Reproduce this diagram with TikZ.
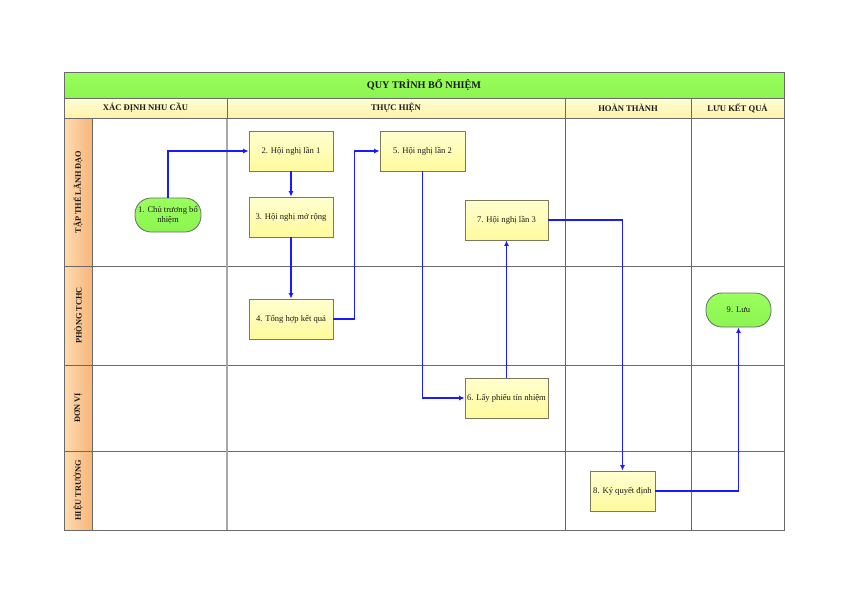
\documentclass[tikz,border=0pt]{standalone}
\usepackage{fontspec}
\setmainfont{Liberation Serif}
\usetikzlibrary{arrows.meta}
\definecolor{gridc}{HTML}{6A6A6A}
\definecolor{lightgrid}{HTML}{A8A8A8}
\definecolor{titlegreen}{HTML}{99FF5C}
\definecolor{titlegreenB}{HTML}{8CF552}
\definecolor{hdrtop}{HTML}{FFFFD6}
\definecolor{hdrbot}{HTML}{FFF2A8}
\definecolor{laneL}{HTML}{FFDCB0}
\definecolor{laneR}{HTML}{F7B57A}
\definecolor{boxtop}{HTML}{FFFFD0}
\definecolor{boxbot}{HTML}{FFFA9C}
\definecolor{boxdraw}{HTML}{7A7A5A}
\definecolor{flow}{HTML}{1A1AFF}
\definecolor{txt}{HTML}{1A1A1A}
\tikzset{
  cell/.style={draw=gridc, line width=0.9pt, inner sep=0pt, font=\bfseries\fontsize{8.6}{10}\selectfont, text=txt},
  titlecell/.style={cell, top color=titlegreen, bottom color=titlegreenB, font=\bfseries\fontsize{10.2}{12}\selectfont},
  hdrcell/.style={cell, top color=hdrtop, bottom color=hdrbot},
  lanecell/.style={cell, left color=laneL, right color=laneR, rotate=90, font=\bfseries\fontsize{8.3}{10}\selectfont},
  bodycell/.style={draw=gridc, line width=0.9pt, inner sep=0pt, fill=white},
  stepbox/.style={draw=boxdraw, line width=0.8pt, top color=boxtop, bottom color=boxbot, inner sep=1pt, align=center, font=\fontsize{8.6}{10}\selectfont, text=txt},
  termbox/.style={draw=gridc, line width=0.8pt, top color=titlegreen, bottom color=titlegreenB, rounded corners=16pt, inner sep=1pt, align=center, font=\fontsize{8.6}{10}\selectfont, text=txt},
  flowline/.style={draw=flow, line width=1.6pt, -{Latex[length=5.5pt,width=5pt]}},
}
\begin{document}
\begin{tikzpicture}[x=1pt,y=-1pt]
\useasboundingbox (0,0) rectangle (842,595);
% lane bodies
\node[bodycell, minimum width=692pt, minimum height=148pt] (b1) at (438,192) {};
\node[bodycell, minimum width=692pt, minimum height=99pt] (b2) at (438,315.5) {};
\node[bodycell, minimum width=692pt, minimum height=86pt] (b3) at (438,408) {};
\node[bodycell, minimum width=692pt, minimum height=79pt] (b4) at (438,490.5) {};
% column dividers
\draw[lightgrid, line width=1.1pt] (227,118) -- (227,530);
\draw[gridc, line width=0.9pt] (565,118) -- (565,530);
\draw[gridc, line width=0.9pt] (691,118) -- (691,530);
% title and headers
\node[titlecell, minimum width=720pt, minimum height=26pt] (title) at (424,85) {QUY TRÌNH BỔ NHIỆM};
\node[hdrcell, minimum width=163pt, minimum height=20pt] (h1) at (145.5,108) {XÁC ĐỊNH NHU CẦU};
\node[hdrcell, minimum width=338pt, minimum height=20pt] (h2) at (396,108) {THỰC HIỆN};
\node[hdrcell, minimum width=126pt, minimum height=20pt] (h3) at (628,108) {HOÀN THÀNH};
\node[hdrcell, minimum width=93pt, minimum height=20pt] (h4) at (737.5,108) {LƯU KẾT QUẢ};
% lane labels
\node[lanecell, minimum width=148pt, minimum height=28pt] (l1) at (78,192) {TẬP THỂ LÃNH ĐẠO};
\node[lanecell, minimum width=99pt, minimum height=28pt] (l2) at (78,315.5) {PHÒNG TCHC};
\node[lanecell, minimum width=86pt, minimum height=28pt] (l3) at (78,408) {ĐƠN VỊ};
\node[lanecell, minimum width=79pt, minimum height=28pt] (l4) at (78,490.5) {HIỆU TRƯỞNG};
% steps
\node[termbox, minimum width=66pt, minimum height=34pt] (n1) at (168,215) {1. Chủ trương bổ\\nhiệm};
\node[stepbox, minimum width=84pt, minimum height=40pt] (n2) at (291,151) {2. Hội nghị lần 1};
\node[stepbox, minimum width=84pt, minimum height=40pt] (n3) at (291,217) {3. Hội nghị mở rộng};
\node[stepbox, minimum width=84pt, minimum height=40pt] (n4) at (291,319) {4. Tổng hợp kết quả};
\node[stepbox, minimum width=85pt, minimum height=40pt] (n5) at (422.5,151) {5. Hội nghị lần 2};
\node[stepbox, minimum width=83pt, minimum height=40pt] (n6) at (506.5,398) {6. Lấy phiếu tín nhiệm};
\node[stepbox, minimum width=83pt, minimum height=40pt] (n7) at (506.5,220) {7. Hội nghị lần 3};
\node[stepbox, minimum width=65pt, minimum height=40pt] (n8) at (622.5,491) {8. Ký quyết định};
\node[termbox, minimum width=65pt, minimum height=34pt] (n9) at (738.5,310) {9. Lưu};
% connectors
\draw[flowline] (n1.north) |- (n2.west);
\draw[flowline] (n2.south) -- (n3.north);
\draw[flowline] (n3.south) -- (n4.north);
\draw[flowline] (n4.east) -- ++(21,0) |- (n5.west);
\draw[flowline] (n5.south) |- (n6.west);
\draw[flowline] (n6.north) -- (n7.south);
\draw[flowline] (n7.east) -| (n8.north);
\draw[flowline] (n8.east) -| (n9.south);
\end{tikzpicture}
\end{document}
